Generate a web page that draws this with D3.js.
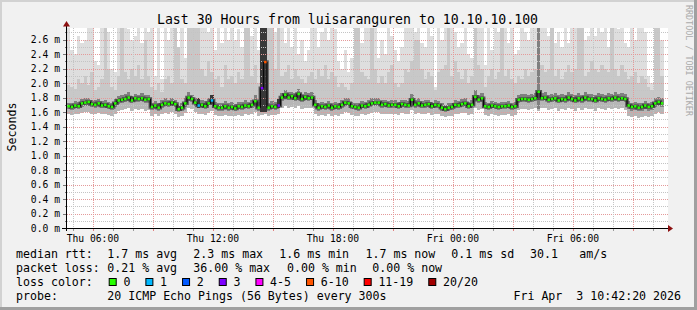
<!DOCTYPE html>
<html><head><meta charset="utf-8">
<script src="https://cdn.jsdelivr.net/npm/d3@7"></script>
<style>
html,body{margin:0;padding:0;background:#f1f1f1;}
svg{display:block;}
text{font-family:"DejaVu Sans Mono",monospace;fill:#000;}
</style></head><body>
<svg id="chart" width="697" height="310"></svg>
<script>
// ---------------- data ----------------
const title = "Last 30 Hours from luisaranguren to 10.10.10.100";
const startTime = Date.UTC(2026, 3, 2, 4, 42, 20);
const endTime = Date.UTC(2026, 3, 3, 10, 42, 20);
const stepMinutes = 10;
const yMax = 2.76;
const yAxisTitle = "Seconds";
const watermark = "RRDTOOL / TOBI OETIKER";

// median rtt per step (ms)
const median = [
1.68,1.67,1.69,1.68,1.72,1.73,1.74,1.71,1.70,1.72,
1.69,1.70,1.68,1.67,1.72,1.76,1.77,1.78,1.80,1.76,
1.79,1.78,1.79,1.77,1.78,1.67,1.69,1.66,1.70,1.72,
1.71,1.73,1.71,1.64,1.66,1.72,1.80,1.78,1.73,1.69,
1.70,1.68,1.72,1.76,1.68,1.66,1.66,1.68,1.66,1.67,
1.65,1.68,1.67,1.69,1.68,1.70,1.75,1.66,1.93,2.29,
1.66,1.68,1.67,1.69,1.80,1.84,1.80,1.82,1.79,1.85,
1.78,1.81,1.79,1.80,1.70,1.66,1.68,1.67,1.69,1.66,
1.68,1.67,1.70,1.73,1.72,1.68,1.67,1.66,1.69,1.68,
1.70,1.72,1.73,1.73,1.70,1.71,1.69,1.70,1.70,1.68,
1.71,1.70,1.69,1.77,1.70,1.72,1.69,1.70,1.71,1.68,
1.70,1.69,1.66,1.64,1.66,1.67,1.70,1.69,1.71,1.72,
1.68,1.70,1.81,1.77,1.79,1.68,1.67,1.69,1.68,1.67,
1.68,1.68,1.69,1.67,1.68,1.77,1.78,1.78,1.77,1.78,
1.79,1.88,1.79,1.80,1.77,1.78,1.79,1.76,1.78,1.77,
1.80,1.78,1.76,1.79,1.77,1.80,1.78,1.78,1.76,1.79,
1.78,1.77,1.79,1.78,1.80,1.78,1.79,1.78,1.69,1.67,
1.68,1.66,1.67,1.69,1.67,1.68,1.72,1.74,1.72];

// smoke: fastest ping per step
const pingMin = [
1.57,1.56,1.58,1.57,1.59,1.60,1.60,1.58,1.57,1.59,
1.57,1.58,1.56,1.55,1.58,1.62,1.63,1.64,1.65,1.62,
1.64,1.63,1.64,1.62,1.63,1.55,1.57,1.54,1.57,1.59,
1.58,1.60,1.58,1.53,1.55,1.59,1.65,1.64,1.60,1.57,
1.58,1.56,1.59,1.62,1.56,1.55,1.54,1.56,1.55,1.55,
1.54,1.56,1.55,1.57,1.56,1.58,1.60,1.55,1.56,1.58,
1.55,1.56,1.56,1.57,1.66,1.69,1.66,1.67,1.65,1.69,
1.64,1.66,1.65,1.65,1.57,1.55,1.56,1.55,1.57,1.55,
1.56,1.55,1.58,1.60,1.59,1.56,1.55,1.54,1.57,1.56,
1.58,1.59,1.60,1.60,1.58,1.58,1.57,1.58,1.58,1.56,
1.59,1.58,1.57,1.63,1.58,1.59,1.57,1.58,1.59,1.56,
1.58,1.57,1.54,1.53,1.55,1.55,1.58,1.57,1.59,1.59,
1.56,1.58,1.66,1.63,1.64,1.56,1.55,1.57,1.56,1.55,
1.56,1.56,1.57,1.55,1.56,1.63,1.64,1.64,1.63,1.64,
1.65,1.62,1.65,1.66,1.63,1.64,1.65,1.62,1.64,1.63,
1.66,1.64,1.62,1.65,1.63,1.66,1.64,1.64,1.62,1.65,
1.64,1.63,1.65,1.64,1.66,1.64,1.65,1.63,1.54,1.53,
1.54,1.52,1.53,1.55,1.53,1.54,1.58,1.60,1.58];

// smoke: lower edge of the dense core
const pingQ1 = [
1.64,1.63,1.65,1.64,1.67,1.69,1.69,1.67,1.66,1.68,
1.65,1.66,1.64,1.63,1.67,1.71,1.73,1.74,1.75,1.72,
1.74,1.74,1.75,1.73,1.73,1.63,1.65,1.62,1.66,1.68,
1.67,1.69,1.67,1.60,1.62,1.67,1.75,1.74,1.69,1.65,
1.66,1.64,1.68,1.71,1.64,1.62,1.62,1.64,1.62,1.63,
1.61,1.64,1.63,1.65,1.64,1.66,1.70,1.62,1.60,1.60,
1.62,1.64,1.63,1.65,1.75,1.79,1.76,1.77,1.75,1.80,
1.74,1.76,1.75,1.76,1.66,1.62,1.64,1.63,1.65,1.62,
1.64,1.63,1.66,1.69,1.68,1.64,1.63,1.62,1.65,1.64,
1.66,1.68,1.69,1.69,1.66,1.67,1.65,1.66,1.66,1.64,
1.67,1.66,1.65,1.72,1.66,1.68,1.65,1.66,1.67,1.64,
1.66,1.65,1.62,1.60,1.62,1.63,1.66,1.65,1.67,1.68,
1.64,1.66,1.76,1.73,1.74,1.64,1.63,1.65,1.64,1.63,
1.64,1.64,1.65,1.63,1.64,1.72,1.74,1.74,1.73,1.74,
1.75,1.64,1.75,1.76,1.73,1.74,1.75,1.72,1.74,1.73,
1.76,1.74,1.72,1.75,1.73,1.76,1.74,1.74,1.72,1.75,
1.74,1.73,1.75,1.74,1.76,1.74,1.75,1.74,1.64,1.62,
1.63,1.61,1.62,1.64,1.62,1.63,1.67,1.69,1.67];

// smoke: upper edge of the dense core
const pingQ3 = [
1.73,1.72,1.75,1.74,1.78,1.79,1.80,1.77,1.76,1.78,
1.75,1.76,1.74,1.73,1.78,1.82,1.84,1.85,1.87,1.82,
1.85,1.84,1.86,1.83,1.84,1.73,1.75,1.72,1.76,1.79,
1.77,1.80,1.77,1.70,1.72,1.79,1.87,1.84,1.80,1.79,
1.77,1.75,1.79,1.84,1.74,1.72,1.72,1.75,1.72,1.74,
1.71,1.74,1.74,1.76,1.74,1.77,1.84,1.74,2.80,2.80,
1.73,1.75,1.74,1.78,1.86,1.91,1.87,1.88,1.86,1.92,
1.85,1.88,1.86,1.87,1.77,1.72,1.74,1.73,1.75,1.72,
1.74,1.73,1.77,1.80,1.79,1.74,1.73,1.72,1.75,1.74,
1.77,1.79,1.80,1.80,1.76,1.77,1.75,1.76,1.76,1.74,
1.77,1.76,1.75,1.85,1.76,1.79,1.75,1.76,1.77,1.74,
1.76,1.75,1.72,1.70,1.72,1.73,1.76,1.75,1.78,1.79,
1.74,1.76,1.90,1.84,1.86,1.74,1.73,1.75,1.74,1.73,
1.74,1.74,1.75,1.73,1.74,1.83,1.85,1.85,1.84,1.85,
1.86,2.80,1.86,1.87,1.84,1.85,1.86,1.83,1.85,1.84,
1.87,1.85,1.83,1.86,1.84,1.87,1.85,1.85,1.83,1.86,
1.85,1.84,1.86,1.85,1.87,1.85,1.86,1.85,1.75,1.73,
1.74,1.72,1.73,1.75,1.73,1.74,1.79,1.81,1.79];

// smoke: top of the medium band
const pingP90 = [
1.98,1.95,1.92,2.05,2.00,2.10,1.98,2.15,1.90,1.95,
2.05,2.80,2.20,1.95,1.90,2.10,2.80,2.15,2.05,2.20,
2.10,2.25,2.05,2.60,2.10,1.95,1.90,2.00,1.88,2.05,
2.10,2.00,2.80,2.80,2.05,2.00,2.80,2.80,2.80,2.80,
2.20,2.10,2.30,2.15,2.05,2.10,1.95,2.25,2.05,2.10,
2.00,2.15,2.05,2.80,2.80,2.10,2.25,2.00,2.80,2.80,
2.80,2.80,2.20,2.80,2.10,2.15,2.25,2.05,2.20,2.10,
2.05,2.00,2.10,2.15,2.05,2.20,2.10,2.25,2.05,2.15,
2.10,1.95,2.00,1.95,1.90,2.00,2.80,2.80,2.15,2.10,
2.05,2.80,2.20,2.00,2.10,2.00,2.15,2.25,2.00,1.95,
2.00,2.20,2.15,2.30,2.60,2.60,2.20,2.05,2.15,2.10,
1.90,2.15,2.20,2.25,2.80,2.10,2.30,2.15,2.05,2.20,
2.00,2.10,2.80,2.25,2.20,1.95,2.10,2.20,2.05,2.15,
2.80,2.10,2.20,2.05,2.00,2.10,2.05,2.20,2.10,2.15,
2.20,2.80,2.25,2.15,2.20,2.80,2.10,2.20,2.05,2.15,
2.25,2.15,2.20,2.80,2.80,2.10,2.15,2.30,2.20,2.15,
2.25,2.20,2.15,2.80,2.20,2.10,2.25,2.15,2.05,2.10,
2.15,2.00,2.10,2.05,1.95,1.90,2.80,2.80,2.10];

// smoke: slowest ping per step (values above the axis top are clipped)
const pingMax = [
2.80,2.45,2.40,2.65,2.55,2.60,2.80,2.80,2.30,2.25,
2.80,2.80,2.70,2.20,2.15,2.80,2.80,2.80,2.75,2.60,
2.65,2.80,2.55,2.80,2.70,2.80,2.10,2.80,2.05,2.80,
2.60,2.80,2.80,2.50,2.80,2.35,2.80,2.80,2.80,2.80,
2.80,2.80,2.70,2.80,2.45,2.80,2.55,2.80,2.60,2.80,
2.60,2.75,2.50,2.80,2.80,2.65,2.80,2.45,2.80,2.80,
2.80,2.80,2.70,2.80,2.80,2.55,2.80,2.50,2.80,2.40,
2.60,2.30,2.45,2.80,2.80,2.50,2.70,2.80,2.60,2.80,
2.75,2.30,2.20,2.45,2.15,2.35,2.80,2.80,2.55,2.80,
2.80,2.80,2.80,2.35,2.60,2.40,2.80,2.65,2.45,2.30,
2.50,2.80,2.80,2.80,2.70,2.80,2.55,2.50,2.80,2.65,
1.95,2.80,2.60,2.80,2.80,2.80,2.70,2.50,2.55,2.80,
2.40,2.35,2.80,2.80,2.80,2.25,2.80,2.45,2.80,2.70,
2.80,2.80,2.55,2.80,2.40,2.45,2.80,2.70,2.60,2.80,
2.80,2.80,2.80,2.80,2.65,2.80,2.55,2.70,2.50,2.80,
2.55,2.80,2.80,2.80,2.80,2.60,2.65,2.80,2.65,2.80,
2.70,2.80,2.50,2.80,2.80,2.75,2.80,2.55,2.50,2.80,
2.60,2.80,2.80,2.70,2.10,2.00,2.80,2.80,2.60];

// steps with packet loss (pings lost out of 20)
const lossSteps = [39, 43, 58, 59, 63];
const lossCounts = [1, 1, 3, 7, 3];

const yTicks = [0.0,0.2,0.4,0.6,0.8,1.0,1.2,1.4,1.6,1.8,2.0,2.2,2.4,2.6];
const yTickLabels = ["0.0 m","0.2 m","0.4 m","0.6 m","0.8 m","1.0 m","1.2 m","1.4 m","1.6 m","1.8 m","2.0 m","2.2 m","2.4 m","2.6 m"];

const lossClasses = ["0","1","2","3","4-5","6-10","11-19","20/20"];
const lossClassMax = [0, 1, 2, 3, 5, 10, 19, 20];
const lossColors = ["#26ff00","#00b8ff","#0059ff","#7e00ff","#ff00ff","#ff5500","#ff0000","#a10000"];

const rttLabel = "median rtt:";
const rttStats = ["1.7 ms avg","2.3 ms max","1.6 ms min","1.7 ms now","0.1 ms sd"];
const amStats = ["30.1","am/s"];
const lossLabel = "packet loss:";
const lossStats = ["0.21 % avg","36.00 % max","0.00 % min","0.00 % now"];
const lossColorLabel = "loss color:";
const probeLabel = "probe:";
const probeText = "20 ICMP Echo Pings (56 Bytes) every 300s";
const stampText = "Fri Apr  3 10:42:20 2026";

// ---------------- drawing ----------------
const W = 697, H = 310;
const svg = d3.select("#chart");
const L = 67, R = 667, T = 28, B = 228;
const keepSpaces = s => s.replace(/ /g, "\u00a0");

svg.append("rect").attr("width", W).attr("height", H).attr("fill", "#f1f1f1");
// 3D shade border
svg.append("path").attr("d", `M0,0H${W}V2H2V${H}H0Z`).attr("fill", "#d2d2d2");
svg.append("path").attr("d", `M${W},0V${H}H0V${H-3}H${W-3}V0Z`).attr("fill", "#a0a0a0");

const x = d3.scaleUtc().domain([new Date(startTime), new Date(endTime)]).range([L, R]);
const y = d3.scaleLinear().domain([0, yMax]).range([B, T]);
const yc = v => y(Math.min(v, yMax));
const stepMs = stepMinutes * 60000;
const tAt = i => new Date(startTime + i * stepMs);
const steps = d3.range(median.length);
const lossOf = steps.map(() => 0);
lossSteps.forEach((s, k) => lossOf[s] = lossCounts[k]);
const lossColor = n => lossColors[lossClassMax.findIndex(m => n <= m)];

// canvas
svg.append("rect").attr("x", L).attr("y", T).attr("width", R - L + 1).attr("height", B - T).attr("fill", "#ffffff");

const plot = svg.append("g");
function layer(lo, hi, color) {
  plot.append("g").attr("shape-rendering", "crispEdges")
    .selectAll("rect").data(steps).join("rect")
    .attr("x", i => x(tAt(i)))
    .attr("width", i => x(tAt(i + 1)) - x(tAt(i)))
    .attr("y", i => yc(hi(i)))
    .attr("height", i => Math.max(0, yc(lo(i)) - yc(hi(i))))
    .attr("fill", color);
}
layer(i => pingMin[i], i => pingMax[i], "#dedede");
layer(i => pingMin[i], i => Math.min(pingP90[i], pingMax[i]), "#c8c8c8");
layer(i => pingMin[i], i => pingQ1[i], "#b6b6b6");
layer(i => pingQ1[i], i => pingQ3[i], i => lossOf[i] > 0 ? "#383838" : "#808080");

// grid
const grid = svg.append("g").attr("shape-rendering", "crispEdges");
const hTicks = d3.range(1, 28).map(k => k / 10);
grid.selectAll("line.h").data(hTicks).join("line")
  .attr("x1", L).attr("x2", R + 1)
  .attr("y1", d => Math.round(y(d)) + 0.5).attr("y2", d => Math.round(y(d)) + 0.5)
  .attr("stroke", (d, k) => (k % 2 === 1) ? "#e49a9a" : "#c4c4c4")
  .attr("stroke-dasharray", "1,1");
const hours = x.ticks(d3.utcHour.every(1));
grid.selectAll("line.v").data(hours).join("line")
  .attr("x1", d => Math.round(x(d)) + 0.5).attr("x2", d => Math.round(x(d)) + 0.5)
  .attr("y1", T).attr("y2", B)
  .attr("stroke", d => d.getUTCHours() % 3 === 0 ? "#e49a9a" : "#c4c4c4")
  .attr("stroke-dasharray", "1,1");

// median line + loss colored ticks
const mid = i => (x(tAt(i)) + x(tAt(i + 1))) / 2;
const medLine = d3.line().x(i => mid(i)).y(i => y(median[i])).curve(d3.curveStep);
svg.append("path").attr("d", medLine(steps)).attr("fill", "none")
  .attr("stroke", "#383838").attr("stroke-width", 3.5).attr("opacity", 0.8);
svg.append("path").attr("d", medLine(steps)).attr("fill", "none")
  .attr("stroke", "#000").attr("stroke-width", 1);
svg.append("g").selectAll("rect").data(steps).join("rect")
  .attr("x", i => mid(i) - 1.25).attr("width", 2.5)
  .attr("y", i => y(median[i]) - 1.25).attr("height", 2.5)
  .attr("fill", i => lossColor(lossOf[i]));

// axes
const ax = svg.append("g").attr("shape-rendering", "crispEdges");
ax.selectAll("line.yt").data(hTicks.concat([0])).join("line")
  .attr("x1", (d) => Math.round(d * 10) % 2 === 0 ? 63 : 65).attr("x2", L)
  .attr("y1", d => Math.round(y(d)) + 0.5).attr("y2", d => Math.round(y(d)) + 0.5)
  .attr("stroke", "#777");
ax.selectAll("line.xt").data(hours).join("line")
  .attr("x1", d => Math.round(x(d)) + 0.5).attr("x2", d => Math.round(x(d)) + 0.5)
  .attr("y1", B).attr("y2", B + 3)
  .attr("stroke", d => d.getUTCHours() % 3 === 0 ? "#e08080" : "#999");
ax.append("line").attr("x1", L - 0.5).attr("x2", L - 0.5).attr("y1", B + 3).attr("y2", 24).attr("stroke", "#000");
ax.append("line").attr("x1", 62).attr("x2", R + 2).attr("y1", B + 0.5).attr("y2", B + 0.5).attr("stroke", "#000");
svg.append("path").attr("d", `M${L-4},26.5L${L+3},26.5L${L-0.5},21Z`).attr("fill", "#8c1010");
svg.append("path").attr("d", `M${R+1},225L${R+1},232L${R+6},228.5Z`).attr("fill", "#8c1010");

// tick labels
svg.append("g").selectAll("text").data(yTicks).join("text")
  .attr("x", 60).attr("y", d => y(d) + 3.5).attr("text-anchor", "end")
  .style("font-size", "9.7px").text((d, k) => keepSpaces(yTickLabels[k]));
const labelTimes = x.ticks(d3.utcHour.every(6));
svg.append("g").selectAll("text").data(labelTimes).join("text")
  .attr("x", d => x(d)).attr("y", 241.5).attr("text-anchor", "middle")
  .style("font-size", "9.7px").text(d => keepSpaces(d3.utcFormat("%a %H:%M")(d)));

// titles
svg.append("text").attr("x", 347.5).attr("y", 24).attr("text-anchor", "middle")
  .style("font-size", "13.2px").text(title);
svg.append("text").attr("transform", "translate(15.5,127) rotate(-90)").attr("text-anchor", "middle")
  .style("font-size", "11.6px").text(yAxisTitle);
svg.append("text").attr("transform", "translate(685.5,5) rotate(90)")
  .style("font-size", "8.4px").style("fill", "#aaaaaa").text(keepSpaces(watermark));

// legend
const lg = svg.append("g").style("font-size", "11.6px");
const put = (tx, px, py, anchor) => lg.append("text").attr("x", px).attr("y", py)
  .attr("text-anchor", anchor || "start").text(keepSpaces(tx));
const col = [107.3, 193.3, 279.3, 365.5, 451.3];
put(rttLabel, 16, 258);
rttStats.forEach((s, k) => put(s, col[k], 258));
put(amStats[0], 530, 258);
put(amStats[1], 579.3, 258);
put(lossLabel, 16, 272);
const lcol = [107.3, 193.3, 287, 372.3];
lossStats.forEach((s, k) => put(s, lcol[k], 272));
put(lossColorLabel, 16, 286);
let cx = 108.7;
lossClasses.forEach((c, k) => {
  lg.append("rect").attr("x", cx + 0.5).attr("y", 278.5).attr("width", 7).attr("height", 7)
    .attr("fill", lossColors[k]).attr("stroke", "#000").attr("stroke-width", 1);
  put(c, cx + 14.7, 286);
  cx = cx + 14.7 + c.length * 6.98 + 15;
});
put(probeLabel, 16, 300);
put(probeText, 107.3, 300);
put(stampText, 681, 300, "end");
</script>
</body></html>
